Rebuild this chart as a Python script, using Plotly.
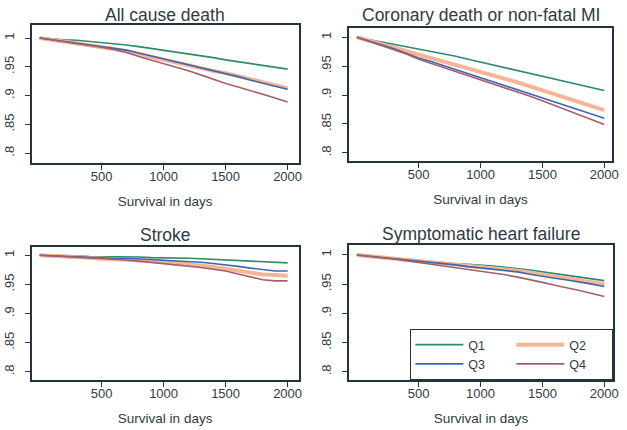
import plotly.graph_objects as go

# ---------------- data ----------------
days = list(range(0, 2001, 100))

quartiles = ["Q1", "Q2", "Q3", "Q4"]
panel_titles = ["All cause death", "Coronary death or non-fatal MI",
                "Stroke", "Symptomatic heart failure"]
x_title = "Survival in days"
x_tickvals = [500, 1000, 1500, 2000]
x_ticktext = ["500", "1000", "1500", "2000"]
y_tickvals = [0.8, 0.85, 0.9, 0.95, 1.0]
y_ticktext = [".8", ".85", ".9", ".95", "1"]

# All cause death
acd_q1 = [1.000, .998, .997, .996, .994, .993, .991, .988, .985, .982, .979,
          .976, .973, .970, .966, .962, .959, .956, .952, .949, .946]
acd_q2 = [1.000, .997, .994, .991, .988, .985, .981, .977, .972, .967, .962,
          .957, .953, .948, .943, .939, .934, .929, .924, .918, .913]
acd_q3 = [1.000, .997, .994, .991, .989, .986, .983, .979, .974, .969, .963,
          .958, .953, .948, .943, .938, .933, .927, .922, .916, .911]
acd_q4 = [1.000, .997, .994, .991, .988, .984, .980, .975, .968, .962, .956,
          .950, .943, .936, .928, .921, .915, .909, .903, .896, .889]

# Coronary death or non-fatal MI
cor_q1 = [1.000, .996, .992, .988, .984, .980, .976, .971, .967, .962, .957,
          .952, .947, .943, .938, .933, .928, .923, .918, .913, .908]
cor_q2 = [1.000, .994, .988, .982, .976, .970, .965, .959, .953, .947, .941,
          .935, .929, .922, .915, .908, .901, .894, .887, .880, .874]
cor_q3 = [1.000, .994, .987, .980, .972, .964, .958, .951, .945, .938, .931,
          .924, .917, .910, .903, .896, .889, .882, .875, .867, .860]
cor_q4 = [1.000, .993, .986, .979, .971, .962, .955, .948, .941, .934, .926,
          .919, .912, .905, .898, .890, .882, .874, .866, .857, .849]

# Stroke
str_q1 = [1.000, 1.000, .999, .999, .998, .998, .997, .997, .997, .996, .996,
          .995, .995, .994, .993, .992, .991, .989, .988, .987, .987]
str_q2 = [1.000, .999, .998, .997, .996, .995, .994, .993, .992, .991, .989,
          .987, .985, .982, .980, .977, .974, .970, .967, .966, .965]
str_q3 = [1.000, .999, .998, .998, .997, .996, .995, .995, .994, .993, .992,
          .991, .990, .988, .986, .984, .981, .978, .975, .973, .973]
str_q4 = [1.000, .999, .998, .997, .996, .994, .993, .992, .990, .988, .986,
          .984, .982, .979, .976, .973, .968, .963, .958, .956, .956]

# Symptomatic heart failure
hf_q1 = [1.000, .998, .996, .994, .992, .990, .988, .987, .985, .984, .983,
         .981, .979, .977, .974, .971, .968, .965, .962, .959, .956]
hf_q2 = [1.000, .998, .996, .994, .992, .990, .988, .986, .984, .982, .980,
         .978, .976, .973, .970, .966, .963, .960, .957, .953, .950]
hf_q3 = [1.000, .998, .996, .994, .992, .989, .987, .985, .983, .980, .978,
         .976, .974, .971, .967, .963, .960, .957, .954, .950, .946]
hf_q4 = [1.000, .998, .995, .993, .990, .987, .985, .982, .979, .976, .973,
         .970, .966, .962, .958, .953, .948, .944, .939, .934, .929]

panels = [
    [acd_q1, acd_q2, acd_q3, acd_q4],
    [cor_q1, cor_q2, cor_q3, cor_q4],
    [str_q1, str_q2, str_q3, str_q4],
    [hf_q1, hf_q2, hf_q3, hf_q4],
]

# ---------------- styling ----------------
W, H = 627, 430
colors = ["#2e8a6c", "#f6b596", "#3d68b0", "#a3606a"]
widths = [1.6, 4.0, 1.6, 1.6]
groups = ["a", "b", "a", "b"]
text_color = "#2f3b42"
line_color = "#24343c"
FONT = "Liberation Sans, Arial, sans-serif"

# pixel boxes: (left, right, top, bottom)
boxes = [(32, 302, 25, 163), (353, 619, 28, 161),
         (32, 302, 247, 380), (353, 620, 245, 380)]
x_ranges = [[-64, 2089], [-63, 2063], [-64, 2089], [-63, 2071]]
y_ranges = [[0.783, 1.0226], [0.786, 1.016], [0.786, 1.0142], [0.786, 1.017]]
title_y = [15, 15, 235, 234]

fig = go.Figure()
layout = dict(
    width=W, height=H,
    margin=dict(l=0, r=0, t=0, b=0),
    paper_bgcolor="white", plot_bgcolor="white",
    font=dict(family=FONT, color=text_color, size=12),
    showlegend=True,
    legend=dict(
        x=415 / W, y=1 - 329 / H, xanchor="left", yanchor="top",
        orientation="h", traceorder="grouped", entrywidth=38,
        bgcolor="white", bordercolor=line_color, borderwidth=1,
        itemwidth=48, font=dict(size=12.5, color=text_color),
        tracegroupgap=0,
    ),
    annotations=[],
)

for p, (series, box) in enumerate(zip(panels, boxes)):
    sfx = "" if p == 0 else str(p + 1)
    xa, ya = "x" + sfx, "y" + sfx
    for q in range(4):
        fig.add_trace(go.Scatter(
            x=days, y=series[q], mode="lines", name=quartiles[q],
            line=dict(color=colors[q], width=widths[q]),
            xaxis=xa, yaxis=ya,
            legendgroup=groups[q], legendrank=q + 1,
            showlegend=(p == 3),
        ))
    l, r, t, b = box
    common = dict(showgrid=False, zeroline=False, showline=True, mirror=True,
                  linecolor=line_color, linewidth=1.7, ticks="outside",
                  ticklen=5, tickwidth=1, tickcolor=line_color,
                  tickfont=dict(size=13, color=text_color))
    layout["xaxis" + sfx] = dict(
        common, domain=[l / W, r / W], range=x_ranges[p], anchor=ya,
        tickvals=x_tickvals, ticktext=x_ticktext, ticklabelstandoff=-4,
        title=dict(text=x_title, font=dict(size=13.5, color=text_color), standoff=13),
    )
    layout["yaxis" + sfx] = dict(
        common, domain=[1 - b / H, 1 - t / H], range=y_ranges[p], anchor=xa,
        tickvals=y_tickvals, ticktext=y_ticktext, tickangle=-90,
        ticklabelstandoff=6,
    )
    layout["annotations"].append(dict(
        text=panel_titles[p], x=(l + r) / 2 / W, y=1 - title_y[p] / H,
        xref="paper", yref="paper", xanchor="center", yanchor="middle",
        showarrow=False, font=dict(size=17.5, color=text_color),
    ))

fig.update_layout(**layout)
fig.write_html("out.html", config={"displayModeBar": False},
               post_script="document.body.style.margin='0px';")
